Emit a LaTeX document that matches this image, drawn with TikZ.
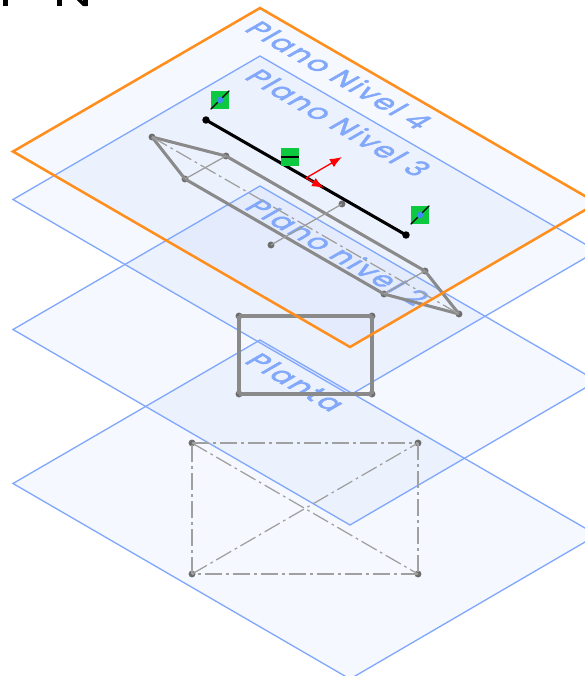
\documentclass[tikz,border=0pt]{standalone}
\usepackage{fontspec}
\setmainfont{Liberation Sans}
\newfontfamily\lblfont[LetterSpace=7,FakeBold=2]{Poppins}
\definecolor{planeblue}{HTML}{82A8FB}
\definecolor{planefill}{HTML}{6F96F5}
\definecolor{orangeline}{HTML}{FF8E1C}
\definecolor{sketchgray}{HTML}{8A8A8A}
\definecolor{dashgray}{HTML}{A0A0A0}
\definecolor{handlegreen}{HTML}{0CC93F}
\definecolor{bluedot}{HTML}{3E8CF5}
\usetikzlibrary{arrows.meta}
\tikzset{
  x=0.75pt,y=-0.75pt,
  planeface/.style={fill=planefill,fill opacity=0.065,draw=none},
  planeedge/.style={draw=planeblue,line width=1pt,line join=miter},
  activeedge/.style={draw=orangeline,line width=1.9pt,line join=miter},
  thicksk/.style={draw=sketchgray,line width=2.3pt},
  thinsk/.style={draw=sketchgray!85,line width=0.95pt},
  chain/.style={draw=dashgray,line width=0.95pt,dash pattern=on 13pt off 3pt on 2pt off 3pt},
  dotnode/.style={circle,fill=#1,inner sep=0pt,minimum size=5.2pt},
  dotnode/.default=gray!85!black,
  enddot/.style={circle,fill=black,inner sep=0pt,minimum size=5.6pt},
  blackline/.style={draw=black,line width=2.3pt},
  handle/.style={fill=handlegreen,draw=none,inner sep=0pt,minimum size=13.5pt},
  redarrow/.style={draw=red,line width=1pt,-{Latex[length=9pt,width=7pt]}},
  planelabel/.style={transform shape,anchor=base west,inner sep=0pt,text=planeblue,font=\fontsize{21.4}{21.4}\lblfont},
}
\newcommand{\plabel}[4]{%
  \begin{scope}[shift={(#1,#2)},cm={0.866,-0.5,0.866,0.5,(0,0)}]
    \node[planelabel] (#3) at (0,0) {#4};
  \end{scope}}
\newcommand{\planeshape}[2]{% name, y offset of the top corner
  \coordinate (#1t) at (260,#2);
  \coordinate (#1l) at (13,#2+143.5);
  \coordinate (#1b) at (350,#2+339);
  \coordinate (#1r) at (597,#2+195);
}
\begin{document}
\begin{tikzpicture}
\useasboundingbox (0,0) rectangle (585,676);
\clip (0,0) rectangle (585,676);
% fragments of the cut-off title
\fill[black] (3,0) rectangle (8,6);
\fill[black] (57,0) rectangle (62,6);
\fill[black] (83,0) rectangle (88,6);
\fill[black] (77,0) -- (82,0) -- (87,6) -- (83,6) -- cycle;
% planes
\planeshape{pa}{340}
\planeshape{pb}{186}
\planeshape{pc}{56}
\planeshape{pd}{8}
\foreach \p in {pa,pb,pc,pd}{
  \path[planeface] (\p t) -- (\p r) -- (\p b) -- (\p l) -- cycle;
}
\draw[planeedge] (pat) -- (par) -- (pab) -- (pal) -- cycle;
\draw[planeedge] (pbt) -- (pbr) -- (pbb) -- (pbl) -- cycle;
\draw[planeedge] (pct) -- (pcr) -- (pcb) -- (pcl) -- cycle;
\plabel{243}{362}{lblA}{Planta}
\plabel{243}{208}{lblB}{Plano nivel 2}
\plabel{243}{78}{lblC}{Plano Nivel 3}
\plabel{243}{30}{lblD}{Plano Nivel 4}
% lower sketch
\node[dotnode] (a1) at (192,443) {};
\node[dotnode] (a2) at (418,443) {};
\node[dotnode] (a3) at (418,574) {};
\node[dotnode] (a4) at (192,574) {};
\draw[chain] (a1.center) -- (a2.center);
\draw[chain] (a2.center) -- (a3.center);
\draw[chain] (a3.center) -- (a4.center);
\draw[chain] (a4.center) -- (a1.center);
\draw[chain] (a1.center) -- (a3.center);
\draw[chain] (a4.center) -- (a2.center);
% rectangle sketch
\node[dotnode] (b1) at (239,316) {};
\node[dotnode] (b2) at (372,316) {};
\node[dotnode] (b3) at (372,394) {};
\node[dotnode] (b4) at (239,394) {};
\draw[thicksk] (b1.center) -- (b2.center);
\draw[thicksk] (b2.center) -- (b3.center);
\draw[thicksk] (b3.center) -- (b4.center);
\draw[thicksk] (b4.center) -- (b1.center);
% upper sketch
\node[dotnode] (c0) at (152,137) {};
\node[dotnode] (c1) at (226,156) {};
\node[dotnode] (c2) at (185,179) {};
\node[dotnode] (c3) at (425,271) {};
\node[dotnode] (c4) at (384,294) {};
\node[dotnode] (c5) at (459,314) {};
\node[dotnode] (c6) at (342,204) {};
\node[dotnode] (c7) at (271,245) {};
\draw[thicksk] (c0.center) -- (c1.center);
\draw[thicksk] (c1.center) -- (c3.center);
\draw[thicksk] (c3.center) -- (c5.center);
\draw[thicksk] (c5.center) -- (c4.center);
\draw[thicksk] (c4.center) -- (c2.center);
\draw[thicksk] (c2.center) -- (c0.center);
\draw[thinsk] (c1.center) -- (c2.center);
\draw[thinsk] (c3.center) -- (c4.center);
\draw[thinsk] (c6.center) -- (c7.center);
\draw[chain] (c0.center) -- (c5.center);
% active plane
\path[activeedge] (pdt) -- (pdr) -- (pdb) -- (pdl) -- cycle;
% black line with handles
\node[enddot] (e1) at (206,120) {};
\node[enddot] (e2) at (406,235) {};
\draw[blackline] (e1.center) -- (e2.center);
\coordinate (o) at (306,178);
\coordinate (rx) at (342,157);
\coordinate (ry) at (324,188);
\draw[redarrow] (o) -- (rx);
\draw[redarrow] (o) -- (ry);
\node[handle] (h1) at (220,100) {};
\node[handle] (h2) at (290,157) {};
\node[handle] (h3) at (420,215) {};
\draw[black,line width=0.9pt] (h1.south west) -- (h1.north east);
\draw[black,line width=0.9pt] (h3.south west) -- (h3.north east);
\draw[black,line width=1.2pt] (h2.west) -- (h2.east);
\node[dotnode=bluedot,minimum size=5pt] (h1d) at (h1) {};
\node[dotnode=bluedot,minimum size=5pt] (h3d) at (h3) {};
\end{tikzpicture}
\end{document}
